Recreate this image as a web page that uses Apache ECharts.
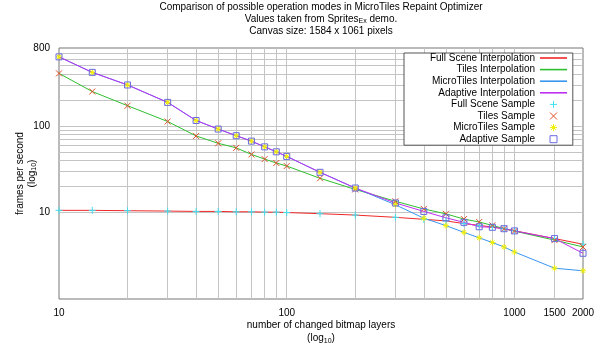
<!DOCTYPE html>
<html><head><meta charset="utf-8">
<script src="https://cdn.jsdelivr.net/npm/echarts@6/dist/echarts.min.js"></script>
<style>html,body{margin:0;padding:0;background:#fff}#c{width:597px;height:350px}</style>
</head><body><div id="c"></div>
<script>
// ---- data ----
const xValues = [10,14,20,30,40,50,60,70,80,90,100,140,200,300,400,500,600,700,800,900,1000,1500,2000];
const fullScene = [10.6,10.6,10.5,10.4,10.3,10.3,10.2,10.2,10.1,10.1,10.0,9.7,9.35,8.8,8.35,8.0,7.45,7.1,6.8,6.5,6.15,5.0,4.3];
const tiles = [407,251,172,113,76.9,63.2,56,47,41.5,37.4,34.5,24.9,18.5,13.5,11.0,9.66,8.4,7.77,7.1,6.5,6.1,4.8,4.0];
const microTiles = [632,418,299,188,116,92.4,77.4,67,57.5,50.4,44.6,29.2,19.2,12.3,8.6,7.06,5.9,5.1,4.5,4.0,3.5,2.27,2.12];
const adaptive = [632,418,299,188,116,92.4,77.4,67,57.5,50.4,44.6,29.2,19.2,12.9,10.3,8.7,7.7,6.85,6.75,6.5,6.13,5.0,3.38];
const xGridValues = [20,30,40,50,60,70,80,90,100,200,300,400,500,600,700,800,900,1000,1500];
const xTickLabels = [10,100,1000,1500,2000];
const yGridValues = [10,20,30,40,50,60,70,80,90,100,200,300,400,500,600,700];
const yTickLabels = [10,100,800];
const seriesNames = ['Full Scene Interpolation','Tiles Interpolation','MicroTiles Interpolation','Adaptive Interpolation',
  'Full Scene Sample','Tiles Sample','MicroTiles Sample','Adaptive Sample'];

const FONT = 'Liberation Sans';
const pairs = arr => xValues.map((x, i) => [x, arr[i]]);

// grid lines and tick labels through the axis scales (markLine)
const mlData = [];
const xAll = Array.from(new Set(xGridValues.concat(xTickLabels))).sort((a,b)=>a-b);
xAll.forEach(v => {
  const grid = xGridValues.includes(v);
  const lab = xTickLabels.includes(v);
  mlData.push({
    xAxis: v,
    lineStyle: {color: grid ? '#c4c4c4' : 'rgba(0,0,0,0)', width: 1, type: 'solid'},
    label: {show: lab, position: 'start', distance: 5, offset: [0, 4], formatter: String(v), color: '#000', fontSize: 10, fontFamily: FONT}
  });
});
const yAll = Array.from(new Set(yGridValues.concat(yTickLabels))).sort((a,b)=>a-b);
yAll.forEach(v => {
  const grid = yGridValues.includes(v);
  const lab = yTickLabels.includes(v);
  mlData.push({
    yAxis: v,
    lineStyle: {color: grid ? '#c4c4c4' : 'rgba(0,0,0,0)', width: 1, type: 'solid'},
    label: {show: lab, position: 'start', distance: 9, formatter: String(v), color: '#000', fontSize: 10, fontFamily: FONT}
  });
});

const PLUS = 'path://M5,0L5,10M0,5L10,5';
const CROSS = 'path://M0,0L10,10M0,10L10,0';
const STAR = 'path://M5,0L5,10M0,5L10,5M1.5,1.5L8.5,8.5M1.5,8.5L8.5,1.5';
const SQUARE = 'path://M0,0L10,0L10,10L0,10Z';
const lineColors = ['#f02828', '#2fbf2f', '#3a96f0', '#c030f0'];
const sampleColors = ['#40e0f0', '#e0502a', '#f0f000', '#6a6ae0'];

const lineSeries = (name, arr, color, z) => ({
  name, type: 'line', data: pairs(arr), symbol: 'none', z,
  lineStyle: {color, width: 1}, itemStyle: {color}, animation: false
});
const sampleSeries = (name, arr, symbol, color, size, z) => ({
  name, type: 'scatter', data: pairs(arr), symbol, symbolSize: size, z,
  itemStyle: {color: 'rgba(0,0,0,0)', borderColor: color, borderWidth: 1, opacity: 1},
  animation: false
});
const NOSYM = {color: 'rgba(0,0,0,0)', borderColor: 'rgba(0,0,0,0)', borderWidth: 0};
const legendData = [
  {name: seriesNames[0], itemStyle: NOSYM},
  {name: seriesNames[1], itemStyle: NOSYM},
  {name: seriesNames[2], itemStyle: NOSYM},
  {name: seriesNames[3], itemStyle: NOSYM},
  {name: seriesNames[4], icon: PLUS, itemStyle: {color: 'rgba(0,0,0,0)', borderColor: sampleColors[0], borderWidth: 1}},
  {name: seriesNames[5], icon: CROSS, itemStyle: {color: 'rgba(0,0,0,0)', borderColor: sampleColors[1], borderWidth: 1}},
  {name: seriesNames[6], icon: STAR, itemStyle: {color: 'rgba(0,0,0,0)', borderColor: sampleColors[2], borderWidth: 1}},
  {name: seriesNames[7], icon: SQUARE, itemStyle: {color: 'rgba(0,0,0,0)', borderColor: sampleColors[3], borderWidth: 1}}
];

const chart = echarts.init(document.getElementById('c'), null, {renderer: 'canvas'});
chart.setOption({
  animation: false,
  backgroundColor: '#fff',
  title: {
    left: 321, top: 1, textAlign: 'center', padding: 0,
    text: 'Comparison of possible operation modes in MicroTiles Repaint Optimizer\nValues taken from Sprites{s|Ex} demo.\nCanvas size: 1584 x 1061 pixels',
    textStyle: {fontSize: 10, fontWeight: 'normal', fontFamily: FONT, color: '#000', lineHeight: 12,
      rich: {s: {fontSize: 7, fontFamily: FONT, verticalAlign: 'bottom', lineHeight: 12, padding: [3,0,0,0]}}}
  },
  grid: {left: 59, right: 14, top: 48, bottom: 47, show: true, borderColor: '#777', borderWidth: 1, backgroundColor: 'rgba(0,0,0,0)'},
  legend: {
    orient: 'vertical', left: 404, top: 53, align: 'right',
    data: legendData,
    itemWidth: 27, itemHeight: 7, itemGap: 1.6,
    padding: [0, 5, 1, 4],
    backgroundColor: '#fff', borderColor: '#555', borderWidth: 1, borderRadius: 0,
    lineStyle: {width: 1.6},
    textStyle: {fontSize: 10, fontFamily: FONT, color: '#000', width: 127, align: 'right', lineHeight: 10},
    selectedMode: false, z: 10
  },
  xAxis: {
    type: 'log', logBase: 10, min: 10, max: 2000,
    axisLine: {show: false}, axisTick: {show: false}, axisLabel: {show: false}, splitLine: {show: false},
    name: 'number of changed bitmap layers\n(log{s|10})', nameLocation: 'middle', nameGap: 20,
    nameTextStyle: {fontSize: 10, fontFamily: FONT, color: '#000', lineHeight: 13,
      rich: {s: {fontSize: 7, fontFamily: FONT, verticalAlign: 'bottom', lineHeight: 13, padding: [3,0,0,0]}}}
  },
  yAxis: {
    type: 'log', logBase: 10, min: 1, max: 800,
    axisLine: {show: false}, axisTick: {show: false}, axisLabel: {show: false}, splitLine: {show: false},
    name: 'frames per second\n(log{s|10})', nameLocation: 'middle', nameGap: 21, nameRotate: 90,
    nameTextStyle: {fontSize: 10, fontFamily: FONT, color: '#000', lineHeight: 12,
      rich: {s: {fontSize: 7, fontFamily: FONT, verticalAlign: 'bottom', lineHeight: 12, padding: [3,0,0,0]}}}
  },
  series: [
    {name: 'grid', type: 'line', data: [], silent: true, animation: false,
     markLine: {silent: true, symbol: 'none', z: 1, animation: false, data: mlData}},
    lineSeries(seriesNames[0], fullScene, lineColors[0], 3),
    lineSeries(seriesNames[1], tiles, lineColors[1], 3),
    lineSeries(seriesNames[2], microTiles, lineColors[2], 3),
    lineSeries(seriesNames[3], adaptive, lineColors[3], 3),
    sampleSeries(seriesNames[4], fullScene, PLUS, sampleColors[0], 7, 4),
    sampleSeries(seriesNames[5], tiles, CROSS, sampleColors[1], 6, 4),
    sampleSeries(seriesNames[6], microTiles, STAR, sampleColors[2], 6, 4),
    sampleSeries(seriesNames[7], adaptive, 'rect', sampleColors[3], 6, 4)
  ]
});
</script></body></html>
